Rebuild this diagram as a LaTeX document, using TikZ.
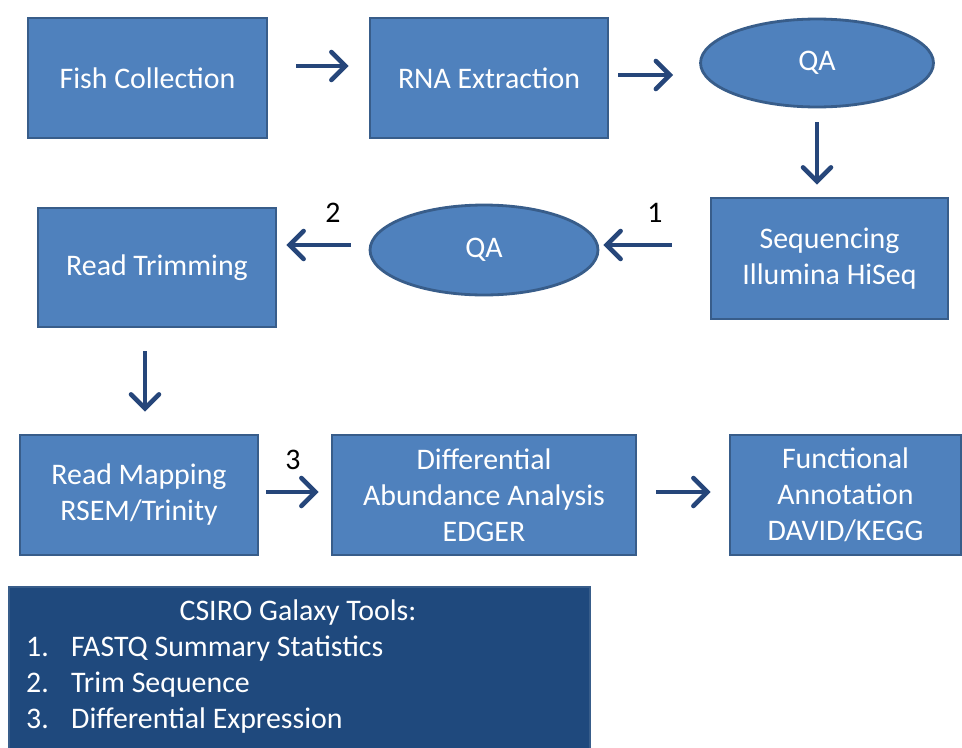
\documentclass[tikz,border=0pt]{standalone}
\usepackage{fontspec}
\setmainfont{Carlito}
\usetikzlibrary{shapes.geometric,arrows.meta}

\definecolor{boxfill}{RGB}{79,129,189}
\definecolor{boxline}{RGB}{56,93,138}
\definecolor{arrowblue}{RGB}{38,70,122}
\definecolor{legendfill}{RGB}{31,73,125}

\tikzset{
  stepbox/.style={draw=boxline, line width=1.6pt, fill=boxfill, text=white,
    align=center, font=\fontsize{17}{20.5}\selectfont, inner sep=2pt},
  qabox/.style={stepbox, ellipse, inner sep=0pt},
  flow/.style={draw=arrowblue, line width=2.6pt,
    -{Straight Barb[length=2.8mm,width=5.6mm,line cap=round]}},
  toolnum/.style={font=\fontsize{17}{20.5}\selectfont, text=black},
  tooltext/.style={font=\fontsize{17}{20.5}\selectfont, text=white, anchor=base west}
}

\begin{document}
\begin{tikzpicture}[x=0.02cm, y=-0.02cm]
  \clip (0,0) rectangle (962,747);
  \fill[white] (0,0) rectangle (962,747);

  % top row
  \node[stepbox, minimum width=4.78cm, minimum height=2.4cm] (fish) at (147.5,78) {Fish Collection};
  \node[stepbox, minimum width=4.76cm, minimum height=2.4cm] (rna) at (489,78) {RNA Extraction};
  \node[qabox, minimum width=4.66cm, minimum height=1.76cm] (qaone) at (817,63) {QA};

  % second row
  \node[stepbox, minimum width=4.74cm, minimum height=2.42cm] (seq) at (829.5,258.5) {Sequencing\\Illumina HiSeq};
  \node[qabox, minimum width=4.56cm, minimum height=1.8cm] (qatwo) at (484,250) {QA};
  \node[stepbox, minimum width=4.76cm, minimum height=2.38cm] (trim) at (157,267.5) {Read Trimming};

  % third row
  \node[stepbox, minimum width=4.76cm, minimum height=2.4cm] (map) at (139,495) {Read Mapping\\RSEM/Trinity};
  \node[stepbox, minimum width=6.08cm, minimum height=2.4cm] (diff) at (484,495) {Differential\\Abundance Analysis\\EDGER};
  \node[stepbox, minimum width=4.62cm, minimum height=2.4cm] (func) at (845.5,495) {Functional\\Annotation\\DAVID/KEGG};

  % connectors
  \draw[flow, shorten <=0.56cm, shorten >=0.4cm] (fish.east |- 0,66) -- (rna.west |- 0,66);
  \draw[flow, shorten <=0.18cm, shorten >=0.52cm] (rna.east |- 0,75) -- (qaone.west |- 0,75);
  \draw[flow, shorten <=0.28cm, shorten >=0.24cm] (qaone.south) -- (qaone.south |- seq.north);
  \draw[flow, shorten <=0.76cm, shorten >=0.08cm] (seq.west |- 0,245) -- (qatwo.east |- 0,245);
  \draw[flow, shorten <=0.36cm, shorten >=0.18cm] (qatwo.west |- 0,245) -- (trim.east |- 0,245);
  \draw[flow, shorten <=0.46cm, shorten >=0.44cm] (trim.south -| 145,0) -- (map.north -| 145,0);
  \draw[flow, shorten <=0.14cm, shorten >=0.24cm] (map.east |- 0,492) -- (diff.west |- 0,492);
  \draw[flow, shorten <=0.38cm, shorten >=0.36cm] (diff.east |- 0,492) -- (func.west |- 0,492);

  \node[toolnum] (one) at (655,213) {1};
  \node[toolnum] (two) at (333,213) {2};
  \node[toolnum] (three) at (293,460) {3};

  % tools legend
  \node[draw=boxline, line width=1pt, fill=legendfill, minimum width=11.62cm,
    minimum height=3.4cm, anchor=north west] (legend) at (8,586) {};
  \node[font=\fontsize{17}{20.5}\selectfont, text=white, anchor=base] (title) at (298,620) {CSIRO Galaxy Tools:};
  \foreach \n/\t [count=\k] in {1/FASTQ Summary Statistics, 2/Trim Sequence, 3/Differential Expression} {
    \node[tooltext] (num\k) at (20,620+36*\k) {\n.};
    \node[tooltext] (tool\k) at (65,620+36*\k) {\t};
  }
\end{tikzpicture}
\end{document}
